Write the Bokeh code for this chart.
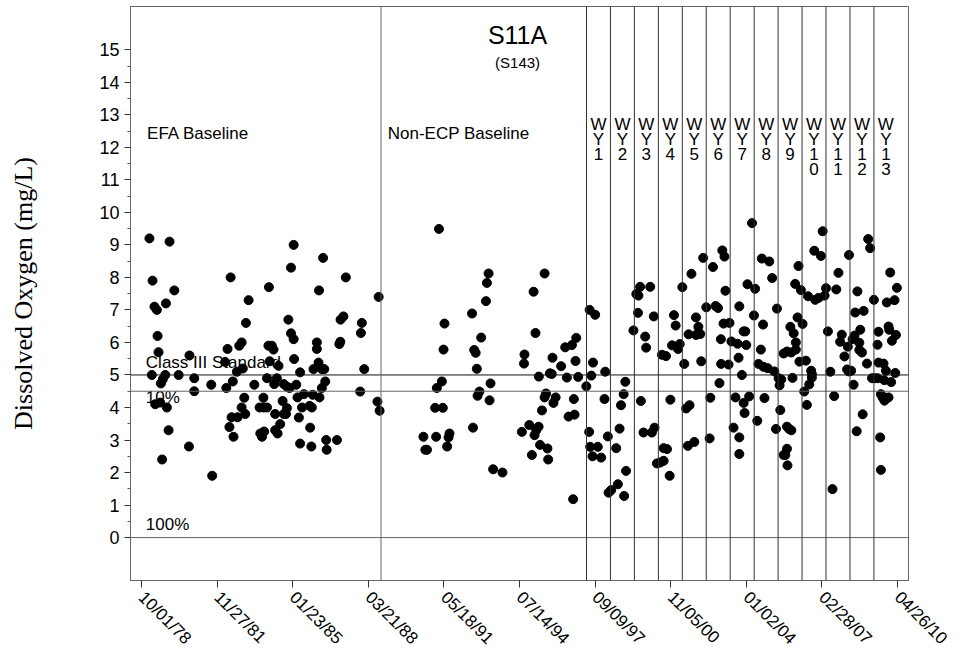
from datetime import datetime
import math
import numpy as np
from bokeh.plotting import figure
from bokeh.models import Range1d, FixedTicker, DatetimeTickFormatter, Span, ColumnDataSource
from bokeh.core.properties import value
from bokeh.embed import file_html
from bokeh.resources import INLINE

# ---------------- data ----------------
tick_dates = ["1978-10-01", "1981-11-27", "1985-01-23", "1988-03-21", "1991-05-18",
              "1994-07-14", "1997-09-09", "2000-11-05", "2004-01-02", "2007-02-28", "2010-04-26"]
y_ticks = list(range(0, 16))
y_minor = [v + 0.5 for v in range(0, 15)]

baseline_split = "1988-10-01"
wy_starts = ["1997-05-01", "1998-05-01", "1999-05-01", "2000-05-01", "2001-05-01",
             "2002-05-01", "2003-05-01", "2004-05-01", "2005-05-01", "2006-05-01",
             "2007-05-01", "2008-05-01", "2009-05-01"]
wy_labels = ["W\nY\n1", "W\nY\n2", "W\nY\n3", "W\nY\n4", "W\nY\n5", "W\nY\n6", "W\nY\n7",
             "W\nY\n8", "W\nY\n9", "W\nY\n1\n0", "W\nY\n1\n1", "W\nY\n1\n2", "W\nY\n1\n3"]

class_iii_standard = 5.0
pct10_level = 4.5
pct100_level = 0.0

# EFA baseline samples (decimal year, mg/L)
efa_year = [1979.08, 1979.92, 1979.21, 1980.12, 1979.29, 1979.39, 1979.77, 1982.47, 1983.22, 1983.11,
            1984.07, 1985.10, 1984.99, 1984.88, 1986.33, 1986.16, 1987.28, 1987.06, 1987.18, 1987.95,
            1988.65, 1979.42, 1979.46, 1980.75, 1979.18, 1979.74, 1979.64, 1979.56, 1980.30, 1980.95,
            1980.95, 1981.66, 1979.32, 1979.53, 1979.81, 1979.88, 1980.73, 1979.61, 1981.70, 1982.34,
            1982.24, 1982.93, 1982.83, 1982.98, 1982.73, 1982.56, 1982.29, 1983.04, 1982.93, 1983.08,
            1982.51, 1982.76, 1982.42, 1982.59, 1983.46, 1983.99, 1983.84, 1983.68, 1983.84, 1983.99,
            1983.71, 1983.87, 1983.78, 1984.05, 1984.19, 1984.26, 1984.99, 1985.10, 1984.10, 1984.47,
            1984.40, 1984.29, 1984.69, 1984.82, 1984.93, 1985.21, 1984.64, 1984.82, 1984.69, 1984.78,
            1984.33, 1984.54, 1984.33, 1984.43, 1985.37, 1985.12, 1985.26, 1985.53, 1985.90, 1985.45,
            1985.77, 1985.86, 1985.32, 1985.79, 1985.37, 1985.84, 1986.07, 1986.07, 1986.14, 1985.93,
            1986.28, 1986.38, 1986.42, 1986.28, 1986.18, 1986.46, 1986.48, 1986.91, 1987.01, 1987.05,
            1987.91, 1988.05, 1987.88, 1988.60, 1988.69]
efa_do = [9.2, 9.1, 7.9, 7.6, 7.1, 7.0, 7.2, 8.0, 7.3, 6.6,
          7.7, 9.0, 8.3, 6.7, 8.6, 7.6, 8.0, 6.7, 6.8, 6.6,
          7.4, 6.2, 5.7, 5.6, 5.0, 5.0, 4.87, 4.74, 5.0, 4.9,
          4.5, 4.7, 4.1, 4.15, 4.0, 3.3, 2.8, 2.4, 1.9, 5.8,
          5.4, 6.0, 5.9, 5.2, 5.1, 4.8, 4.6, 4.3, 4.0, 3.8,
          3.7, 3.7, 3.4, 3.1, 4.7, 4.9, 4.3, 4.0, 4.0, 4.0,
          3.2, 3.26, 3.1, 5.9, 5.9, 5.78, 6.28, 6.1, 5.42, 5.28,
          4.9, 4.72, 4.72, 4.64, 4.6, 4.7, 4.2, 3.98, 3.8, 3.8,
          3.8, 3.49, 3.3, 3.2, 5.08, 5.49, 4.31, 4.41, 4.39, 4.0,
          4.05, 4.0, 3.69, 3.38, 2.89, 2.8, 6.0, 5.8, 5.38, 5.18,
          5.18, 5.18, 4.8, 4.6, 4.31, 3.0, 2.7, 3.0, 5.95, 6.02,
          6.29, 5.18, 4.49, 4.18, 3.9]

# Non-ECP baseline samples
nonecp_year = [1991.17, 1993.24, 1993.17, 1993.13, 1992.55, 1991.40, 1992.93, 1991.36, 1992.64, 1992.70,
               1992.75, 1991.29, 1991.08, 1992.86, 1992.78, 1993.32, 1993.28, 1991.01, 1991.33, 1992.59,
               1990.52, 1991.05, 1991.61, 1991.57, 1991.51, 1990.60, 1990.67, 1993.43, 1993.82, 1995.12,
               1995.58, 1995.20, 1994.74, 1994.72, 1995.34, 1995.80, 1995.88, 1995.91, 1996.27, 1996.44,
               1996.72, 1996.90, 1996.87, 1996.51, 1996.98, 1995.64, 1995.58, 1996.04, 1995.95, 1995.47,
               1996.80, 1996.58, 1996.83, 1994.94, 1995.33, 1995.23, 1995.16, 1994.63, 1995.39, 1995.70,
               1995.05, 1995.73, 1996.77]
nonecp_do = [9.49, 8.12, 7.83, 7.27, 6.89, 6.58, 6.15, 5.78, 5.77, 5.68,
             5.19, 4.8, 4.6, 4.49, 4.36, 4.74, 4.22, 3.99, 3.99, 3.38,
             3.10, 3.10, 3.2, 3.08, 2.8, 2.70, 2.70, 2.10, 2.0, 7.56,
             8.12, 6.29, 5.63, 5.35, 4.95, 5.05, 5.03, 5.53, 5.27, 5.85,
             5.92, 6.14, 5.43, 4.92, 4.94, 4.43, 4.31, 4.31, 4.14, 3.91,
             4.26, 3.72, 3.78, 3.46, 3.41, 3.30, 3.15, 3.25, 2.85, 2.74,
             2.54, 2.40, 1.18]

# Water-year samples (WY1-WY13)
wy_year = [1997.46, 1997.69, 1997.60, 1997.53, 1997.32, 1998.11, 1997.44, 1997.48, 1997.80, 1997.58,
           1997.94, 1998.22, 1998.08, 1998.25, 1998.36, 1998.64, 1998.90, 1998.98, 1998.57, 1998.71,
           1998.77, 1998.88, 1998.95, 1999.41, 1999.50, 1999.57, 1999.99, 1999.48, 1999.29, 1999.78,
           1999.82, 2000.14, 1999.60, 1999.71, 2000.06, 2000.17, 2000.27, 2000.41, 2000.55, 2000.55,
           2000.69, 2000.80, 2000.48, 2000.65, 2000.90, 2001.15, 2001.22, 2000.98, 2001.05, 2000.83,
           2001.33, 2001.71, 2001.41, 2001.49, 2001.63, 2001.56, 2001.83, 2001.59, 2001.90, 2002.08,
           2001.90, 2002.00, 2002.12, 2002.20, 2002.61, 2002.33, 2002.72, 2002.82, 2002.50, 2002.47,
           2003.00, 2003.09, 2003.13, 2003.05, 2003.30, 2002.94, 2002.95, 2003.26, 2002.88, 2003.38,
           2003.64, 2003.71, 2003.55, 2003.47, 2003.71, 2003.71, 2003.68, 2003.82, 2003.89, 2003.93,
           2004.12, 2003.89, 2003.96, 2004.00, 2004.05, 2004.24, 2004.37, 2004.32, 2004.61, 2004.51,
           2004.72, 2004.89, 2004.70, 2004.76, 2004.46, 2004.65, 2004.96, 2005.08, 2005.28, 2005.17,
           2005.35, 2005.46, 2005.39, 2005.42, 2005.24, 2005.70, 2005.79, 2005.88, 2005.70, 2005.56,
           2005.63, 2005.72, 2005.56, 2005.70, 2005.88, 2006.07, 2006.07, 2005.84, 2005.98, 2005.93,
           2006.04, 2006.18, 2006.28, 2006.14, 2006.35, 2006.22, 2006.49, 2006.42, 2006.53, 2006.63,
           2006.71, 2006.74, 2006.74, 2006.58, 2006.84, 2007.12, 2007.19, 2006.88, 2007.02, 2007.27,
           2007.33, 2007.41, 2007.51, 2007.67, 2007.60, 2007.76, 2007.85, 2007.99, 2007.92, 2008.10,
           2008.21, 2008.28, 2008.38, 2008.29, 2008.44, 2008.52, 2008.24, 2008.48, 2008.61, 2008.64,
           2008.55, 2008.90, 2008.76, 2008.72, 2008.83, 2008.72, 2009.04, 2008.86, 2009.09, 2009.17,
           2009.33, 2009.25, 2009.36, 2009.48, 2009.52, 2009.48, 2009.59, 2009.62, 2009.52, 2009.73,
           2009.83, 2009.62, 2009.69, 2009.77, 2009.87, 2009.94, 2009.76, 2010.05, 2009.87, 2010.19,
           2010.01, 2010.29, 2009.94, 2009.97, 2010.08, 2010.25, 2010.22]
wy_do = [7.0, 6.85, 5.38, 4.98, 4.65, 5.10, 3.25, 2.79, 2.79, 2.50,
         2.46, 3.11, 4.26, 1.38, 1.46, 1.64, 1.28, 2.05, 2.75, 3.35,
         4.07, 4.41, 4.79, 7.49, 7.44, 7.71, 7.71, 6.91, 6.37, 6.18,
         5.84, 6.80, 4.20, 3.23, 3.23, 3.38, 2.28, 2.31, 2.36, 2.75,
         2.72, 1.90, 5.62, 5.58, 5.91, 5.80, 5.95, 6.84, 6.52, 4.24,
         7.70, 8.11, 5.34, 3.97, 4.07, 2.82, 2.94, 6.25, 6.23, 6.26,
         6.77, 6.48, 5.42, 8.60, 8.32, 7.08, 7.12, 7.06, 4.30, 3.05,
         8.83, 8.64, 7.59, 6.58, 6.60, 6.10, 5.34, 5.32, 4.75, 6.03,
         5.96, 7.11, 4.31, 3.38, 3.08, 2.57, 5.53, 5.00, 4.14, 3.83,
         4.34, 6.34, 6.34, 5.92, 7.79, 9.67, 7.65, 6.83, 5.78, 5.34,
         5.25, 5.21, 6.55, 4.29, 3.59, 8.58, 8.49, 7.98, 7.04, 5.11,
         4.90, 4.86, 4.68, 3.92, 3.34, 3.41, 3.34, 3.30, 2.73, 2.54,
         2.54, 2.22, 5.66, 5.72, 5.69, 5.78, 6.00, 6.48, 6.28, 4.91,
         7.80, 8.35, 7.61, 6.77, 6.57, 5.41, 5.44, 4.49, 4.08, 4.71,
         5.13, 5.03, 4.92, 7.42, 8.82, 8.66, 9.42, 7.31, 7.37, 7.44,
         7.67, 6.34, 5.10, 4.35, 1.49, 7.63, 8.14, 6.24, 6.02, 5.57,
         5.17, 5.11, 5.13, 8.69, 6.10, 6.21, 5.87, 4.70, 3.27, 7.57,
         6.92, 6.97, 6.39, 5.99, 5.69, 5.77, 5.35, 3.79, 9.18, 8.90,
         7.31, 4.90, 4.90, 4.90, 6.33, 5.93, 3.08, 2.08, 5.38, 5.35,
         5.13, 4.41, 4.31, 4.21, 4.29, 4.31, 4.84, 4.78, 7.23, 7.30,
         8.15, 7.68, 6.49, 6.39, 6.05, 6.23, 5.06]

# ---------------- helpers ----------------
EPOCH = datetime(1970, 1, 1)
DAY_MS = 86400000.0


def ms(d):
    return (d - EPOCH).total_seconds() * 1000.0


def date_ms(s):
    return ms(datetime.strptime(s, "%Y-%m-%d"))


def year_ms(y):
    yr = int(math.floor(y))
    a = datetime(yr, 1, 1)
    b = datetime(yr + 1, 1, 1)
    return ms(a + (b - a) * (y - yr))


tick_ms = [date_ms(s) for s in tick_dates]
x_pad_days = 167.5
x_start = tick_ms[0] - x_pad_days * DAY_MS
x_end = tick_ms[-1] + x_pad_days * DAY_MS

SANS = "Liberation Sans"
FRAME = "#666666"

W, H = 966, 660
p = figure(width=W, height=H, x_axis_type="datetime",
           x_range=Range1d(x_start, x_end), y_range=Range1d(-1.32, 16.33),
           output_backend="svg", toolbar_location=None,
           min_border_left=130, min_border_right=W - 908, min_border_top=6,
           min_border_bottom=H - 580)
p.background_fill_color = "white"
p.border_fill_color = "white"
p.outline_line_color = FRAME
p.outline_line_width = 1
p.xgrid.visible = False
p.ygrid.visible = False

# axes
p.xaxis.ticker = FixedTicker(ticks=tick_ms)
fmt = "%m/%d/%y"
p.xaxis.formatter = DatetimeTickFormatter(microseconds=fmt, milliseconds=fmt, seconds=fmt, minsec=fmt,
                                          minutes=fmt, hourmin=fmt, hours=fmt, days=fmt,
                                          months=fmt, years=fmt)
p.xaxis.major_label_orientation = -math.pi / 4
p.xaxis.major_label_text_font = SANS
p.xaxis.major_label_text_font_size = "17px"
p.xaxis.major_label_text_color = "black"
p.xaxis.major_label_standoff = 7
p.xaxis.major_tick_in = 0
p.xaxis.major_tick_out = 7
p.xaxis.minor_tick_line_color = None
p.xaxis.axis_line_color = FRAME
p.xaxis.major_tick_line_color = "#333333"

p.yaxis.ticker = FixedTicker(ticks=y_ticks, minor_ticks=y_minor)
p.yaxis.major_label_text_font = SANS
p.yaxis.major_label_text_font_size = "18px"
p.yaxis.major_label_text_color = "black"
p.yaxis.major_tick_in = 0
p.yaxis.major_tick_out = 6
p.yaxis.minor_tick_in = 0
p.yaxis.minor_tick_out = 3
p.yaxis.axis_line_color = FRAME
p.yaxis.major_tick_line_color = "#333333"
p.yaxis.minor_tick_line_color = "#555555"
p.yaxis.axis_label = "Dissolved Oxygen (mg/L)"
p.yaxis.axis_label_text_font = "Liberation Serif"
p.yaxis.axis_label_text_font_style = "normal"
p.yaxis.axis_label_text_font_size = "26px"
p.yaxis.axis_label_text_color = "black"
p.yaxis.axis_label_standoff = 58

# reference lines
p.add_layout(Span(location=class_iii_standard, dimension="width", line_color="#111111", line_width=1))
p.add_layout(Span(location=pct10_level, dimension="width", line_color=FRAME, line_width=1))
p.add_layout(Span(location=pct100_level, dimension="width", line_color=FRAME, line_width=1))
p.add_layout(Span(location=date_ms(baseline_split), dimension="height", line_color=FRAME, line_width=1))
for s in wy_starts:
    p.add_layout(Span(location=date_ms(s), dimension="height", line_color="#333333", line_width=1))

# in-plot texts (drawn before the dots, so dots overlay them)
txt = ColumnDataSource(dict(
    x=[year_ms(1978.98), year_ms(1989.03), year_ms(1978.93), year_ms(1978.93), year_ms(1978.93)],
    y=[12.41, 12.41, 5.38, 4.31, 0.41],
    t=["EFA Baseline", "Non-ECP Baseline", "Class III Standard", "10%", "100%"],
))
p.text(x="x", y="y", text="t", source=txt, text_font=value(SANS), text_font_size="17px",
       text_color="black", text_align="left", text_baseline="alphabetic")

p.text(x=[year_ms(1994.45)], y=[15.45], text=["S11A"], text_font=value(SANS), text_font_size="25px",
       text_color="black", text_align="center", text_baseline="alphabetic")
p.text(x=[year_ms(1994.45)], y=[14.62], text=["(S143)"], text_font=value(SANS), text_font_size="15px",
       text_color="black", text_align="center", text_baseline="alphabetic")

wy_ms = [date_ms(s) for s in wy_starts]
wy_centers = [m + 0.5 * 365.25 * DAY_MS for m in wy_ms]
p.text(x=wy_centers, y=[12.98] * len(wy_centers), text=wy_labels, text_font=value(SANS),
       text_font_size="17px", text_color="black", text_align="center", text_baseline="top",
       text_line_height=0.78)

# data points
all_year = efa_year + nonecp_year + wy_year
all_do = efa_do + nonecp_do + wy_do
src = ColumnDataSource(dict(x=[year_ms(v) for v in all_year], y=all_do))
p.scatter(x="x", y="y", source=src, size=9, fill_color="black", line_color="black")

open("out.html", "w").write(file_html(p, INLINE))
